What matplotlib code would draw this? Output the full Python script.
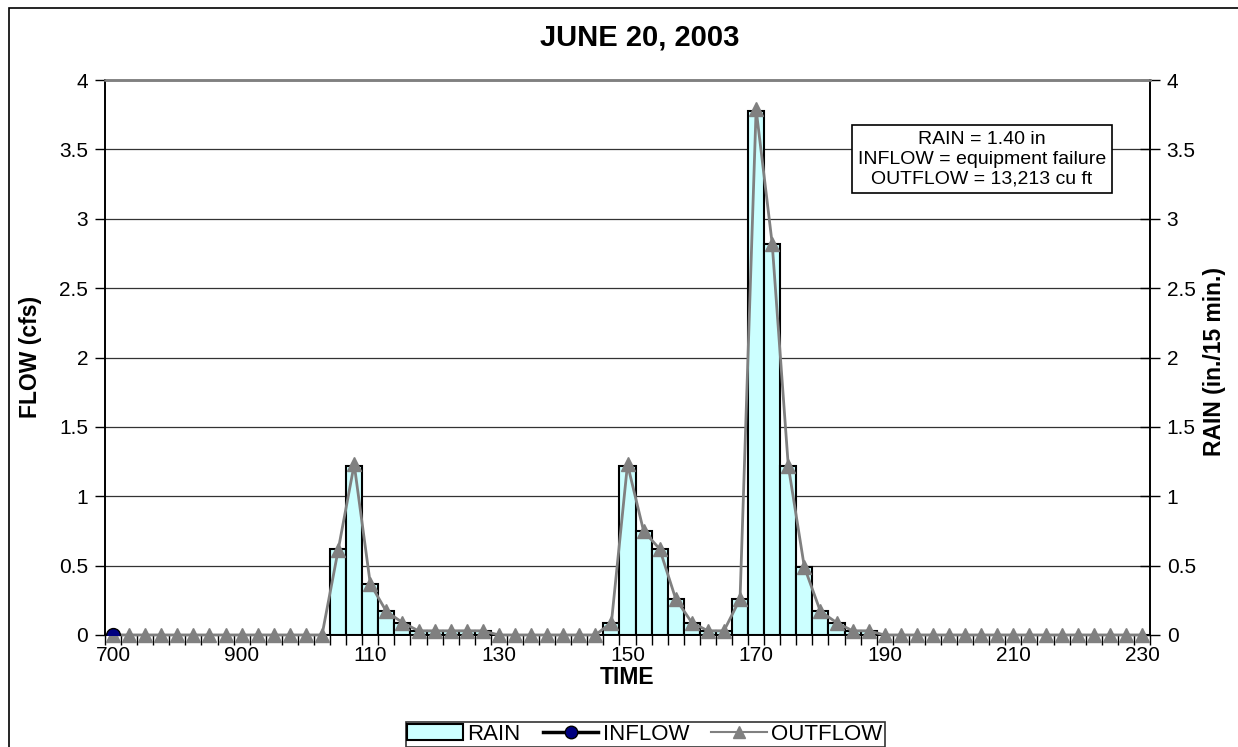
import numpy as np
import matplotlib
matplotlib.use("Agg")
import matplotlib.pyplot as plt
from matplotlib.patches import Patch, Rectangle
from matplotlib.lines import Line2D

plt.rcParams['font.family'] = ['Liberation Sans', 'DejaVu Sans']

# 15-minute readings from 7:00 to 23:00 (65 categories)
tick_labels = ["700", "900", "110", "130", "150", "170", "190", "210", "230"]
label_step = 8

rain = [0, 0, 0, 0, 0, 0, 0, 0, 0, 0, 0, 0, 0, 0,
        0.62, 1.22, 0.37, 0.17, 0.09, 0.03, 0.03, 0.03, 0.03, 0.03,
        0, 0, 0, 0, 0, 0, 0,
        0.09, 1.22, 0.75, 0.62, 0.26, 0.09, 0.03, 0.03,
        0.26, 3.78, 2.82, 1.22, 0.49, 0.17, 0.09, 0.03, 0.03,
        0, 0, 0, 0, 0, 0, 0, 0, 0, 0, 0, 0, 0, 0, 0, 0, 0]

outflow = [0, 0, 0, 0, 0, 0, 0, 0, 0, 0, 0, 0, 0, 0,
           0.61, 1.23, 0.37, 0.17, 0.09, 0.03, 0.03, 0.03, 0.03, 0.03,
           0, 0, 0, 0, 0, 0, 0,
           0.09, 1.23, 0.75, 0.62, 0.26, 0.09, 0.03, 0.03,
           0.26, 3.79, 2.82, 1.22, 0.49, 0.17, 0.09, 0.03, 0.03,
           0, 0, 0, 0, 0, 0, 0, 0, 0, 0, 0, 0, 0, 0, 0, 0, 0]

# inflow gauge failed: only the first reading exists
inflow = [0.0]

n = len(rain)
x = np.arange(n)

W, H = 1238, 747
fig = plt.figure(figsize=(W / 100, H / 100), dpi=100)
ax = fig.add_axes([105 / W, 1 - 635 / H, (1150 - 105) / W, (635 - 80) / H])
ax_rain = ax.twinx()
ax.set_zorder(ax_rain.get_zorder() + 1)
ax.patch.set_visible(False)

# rain bars on the secondary axis (drawn underneath)
ax_rain.bar(x, rain, width=1.0, color="#CCFFFF", edgecolor="black", linewidth=1.5, zorder=2)
ax_rain.set_axisbelow(True)
ax_rain.yaxis.grid(True, color="#333333", linewidth=0.9, zorder=0)

# flows on the primary axis
ax.plot(x, outflow, color="#808080", linewidth=2, marker="^", markersize=10.5,
        markerfacecolor="#808080", markeredgecolor="#808080", clip_on=False, zorder=3)
ax.plot(x[:len(inflow)], inflow, color="black", linewidth=2.5, marker="o", markersize=10,
        markerfacecolor="#000080", markeredgecolor="black", zorder=4)

for a in (ax, ax_rain):
    a.set_ylim(0, 4)
    a.set_yticks(np.arange(0, 4.01, 0.5))
    a.set_yticklabels(["0", "0.5", "1", "1.5", "2", "2.5", "3", "3.5", "4"])
    a.set_xlim(-0.5, n - 0.5)

ax.set_xticks(x[::label_step])
ax.set_xticklabels(tick_labels)
ax.set_xticks(np.arange(n + 1) - 0.5, minor=True)
ax.tick_params(axis="x", which="major", length=0, pad=8, labelsize=15)
ax.tick_params(axis="x", which="minor", length=7, width=1, direction="out")
ax.tick_params(axis="y", length=7, width=1, direction="out", pad=5, labelsize=15)
ax_rain.tick_params(axis="y", length=14, width=1, direction="inout", pad=5, labelsize=15)

for a in (ax, ax_rain):
    a.spines["top"].set_color("#808080")
    a.spines["top"].set_linewidth(1.8)
    a.spines["left"].set_linewidth(1.2)
    a.spines["right"].set_linewidth(1.2)
    a.spines["bottom"].set_linewidth(1.2)

ax.set_xlabel("TIME", fontsize=16.5, fontweight="bold", labelpad=1)
fig.text(31 / W, 1 - 357 / H, "FLOW (cfs)", rotation=90, ha="center", va="center",
         fontsize=16.5, fontweight="bold")
fig.text(1214 / W, 1 - 362 / H, "RAIN (in./15 min.)", rotation=90, ha="center", va="center",
         fontsize=16.5, fontweight="bold")
fig.text(640 / W, 1 - 38 / H, "JUNE 20, 2003", ha="center", va="center",
         fontsize=21, fontweight="bold")

ax.text(0.839, 0.857, "RAIN = 1.40 in\nINFLOW = equipment failure\nOUTFLOW = 13,213 cu ft",
        transform=ax.transAxes, ha="center", va="center", fontsize=14, linespacing=1.2,
        bbox=dict(boxstyle="square,pad=0.3", facecolor="white", edgecolor="black", linewidth=1.2),
        zorder=10)

handles = [Patch(facecolor="#CCFFFF", edgecolor="black", linewidth=1.5),
           Line2D([], [], color="black", linewidth=2.5, marker="o", markersize=9,
                  markerfacecolor="#000080", markeredgecolor="black"),
           Line2D([], [], color="#808080", linewidth=1.5, marker="^", markersize=9,
                  markerfacecolor="#808080", markeredgecolor="#808080")]
leg = fig.legend(handles, ["RAIN", "INFLOW", "OUTFLOW"], loc="upper center",
                 bbox_to_anchor=(645 / W, 1 - 722 / H), ncol=3, fontsize=16,
                 frameon=True, fancybox=False, edgecolor="black", handlelength=2.5,
                 handletextpad=0.2, columnspacing=1.0, borderpad=0.08, borderaxespad=0)
leg.get_frame().set_linewidth(1.2)

# outer chart border (cropped on the right and bottom)
fig.patches.append(Rectangle((9 / W, -0.1), 1.2, 1.1 - 8 / H, transform=fig.transFigure,
                             fill=False, edgecolor="black", linewidth=1.2))

fig.savefig("out.png", dpi=100)
